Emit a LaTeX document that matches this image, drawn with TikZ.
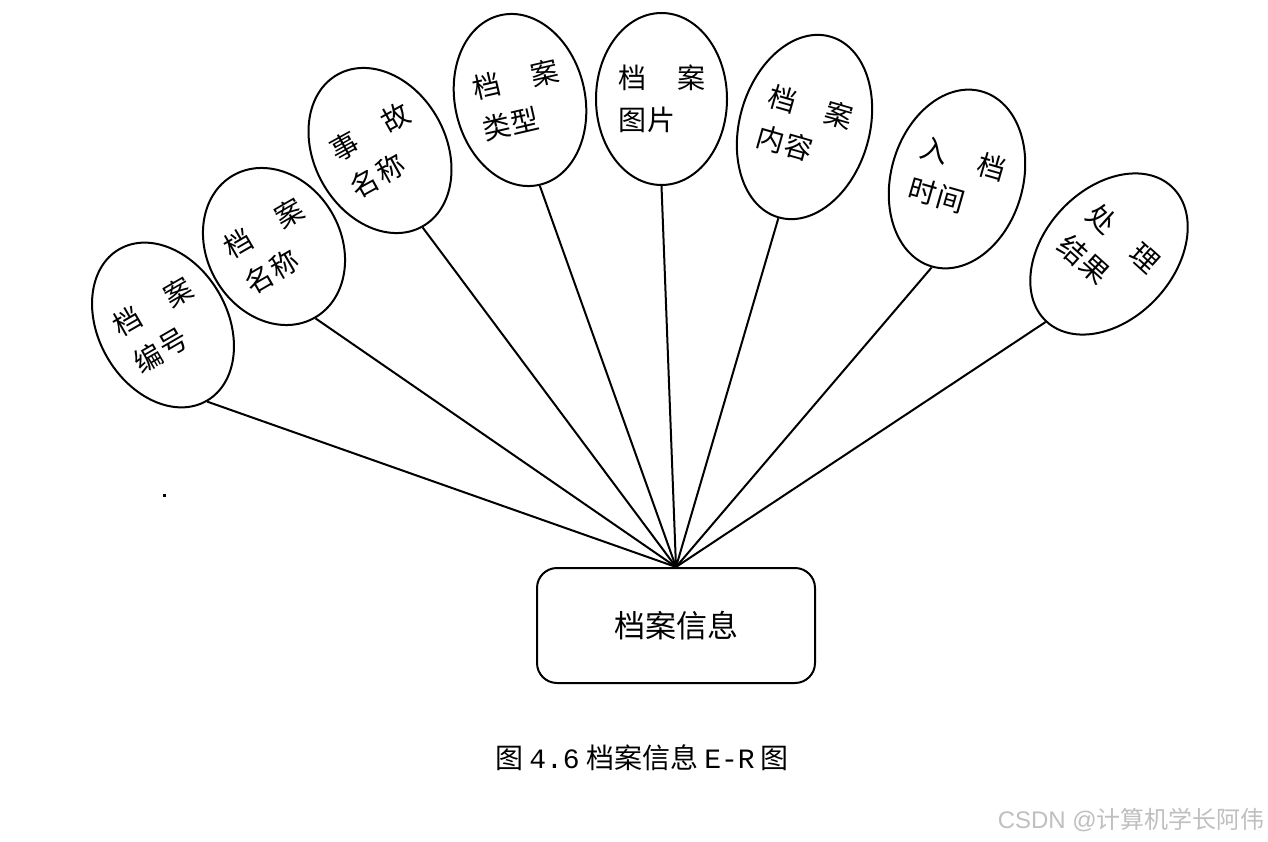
\documentclass[tikz,border=0pt]{standalone}
\usepackage{fontspec}
\setmainfont{Liberation Sans}
\newfontfamily\cjk{Noto Sans CJK SC}
\newfontfamily\capmono{Liberation Mono}
\usetikzlibrary{shapes.geometric}
\begin{document}
\begin{tikzpicture}[x=1pt,y=-1pt,
  attr/.style={draw, ellipse, line width=2pt, inner sep=0pt},
  lt/.style={font=\cjk\fontsize{28}{28}\selectfont, inner sep=0pt},
  link/.style={line width=2pt},
  entity/.style={draw, rounded corners=20pt, line width=2pt, minimum width=278pt, minimum height=115pt, font=\cjk\fontsize{31}{31}\selectfont}
]
\useasboundingbox (0,0) rectangle (1268,842);

\node[attr, minimum width=129pt, minimum height=175pt, rotate=30] (e1) at (163,325) {};
\node[attr, minimum width=134pt, minimum height=164pt, rotate=30] (e2) at (274,246.5) {};
\node[attr, minimum width=132pt, minimum height=174pt, rotate=29] (e3) at (380,150.5) {};
\node[attr, minimum width=130pt, minimum height=174pt, rotate=13] (e4) at (520,100) {};
\node[attr, minimum width=131pt, minimum height=172pt] (e5) at (661.5,99) {};
\node[attr, minimum width=130pt, minimum height=188pt, rotate=-16] (e6) at (804.5,127) {};
\node[attr, minimum width=132pt, minimum height=182pt, rotate=-16] (e7) at (957,179) {};
\node[attr, minimum width=130pt, minimum height=184pt, rotate=-43] (e8) at (1109,254) {};

\foreach \e/\r/\a/\b/\c/\d in {e1/30/档/案/编/号, e2/30/档/案/名/称, e3/29/事/故/名/称,
    e4/13/档/案/类/型, e5/0/档/案/图/片, e6/-16/档/案/内/容, e7/-16/入/档/时/间, e8/-42/处/理/结/果}{
  \begin{scope}[shift={(\e.center)}, rotate=\r, transform shape]
    \node[lt] (\e a) at (-29,-21) {\a};
    \node[lt] (\e b) at (30,-21) {\b};
    \node[lt] (\e c) at (-29,21) {\c};
    \node[lt] (\e d) at (0,21) {\d};
  \end{scope}
}

\node[entity] (r) at (676,625.5) {档案信息};

\foreach \e in {e1,e2,e3,e4,e5,e6,e7,e8}
  \draw[link] (\e.south) -- (r.north);

\fill (163,494) rectangle (165.5,496.5);

\node[font=\cjk\fontsize{28}{28}\selectfont, inner sep=0pt] (cap) at (642,758) {图 {\capmono 4.6} 档案信息 {\capmono E-R} 图};

\node[anchor=east, text=black!25, font=\fontsize{24}{24}\selectfont, inner sep=0pt] (wm) at (1265,820) {CSDN @{\cjk 计算机学长阿伟}};
\end{tikzpicture}
\end{document}
